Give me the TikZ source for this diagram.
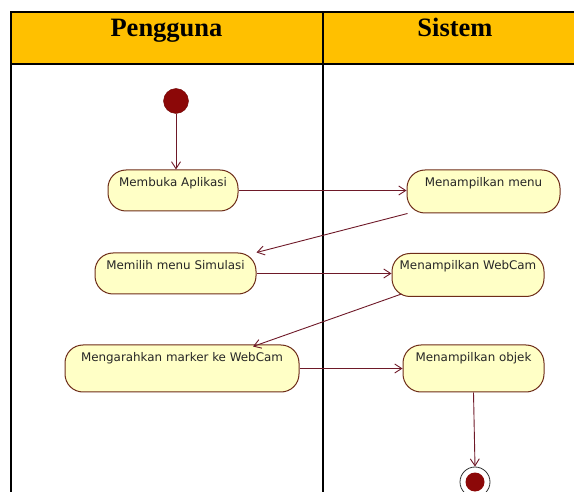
\documentclass[tikz,border=0pt]{standalone}
\usepackage{fontspec}
\setmainfont{Liberation Serif}
\newfontfamily\uifont{DejaVu Sans}
\usetikzlibrary{arrows.meta}

\definecolor{hdrfill}{RGB}{255,192,0}
\definecolor{actfill}{RGB}{255,255,198}
\definecolor{actline}{RGB}{110,45,25}
\definecolor{flowline}{RGB}{110,25,40}
\definecolor{dotfill}{RGB}{140,8,8}

\tikzset{
  act/.style={draw=actline, line width=1pt, fill=actfill,
    rounded corners=18pt, inner sep=0pt},
  acttext/.style={anchor=base, inner sep=0pt, font=\uifont\fontsize{11.9}{14}\selectfont,
    text=black!85},
  flow/.style={draw=flowline, line width=0.9pt,
    -{Straight Barb[length=7pt,width=9pt,line width=0.9pt]}},
  grid/.style={draw=black, line width=2.2pt},
  hdr/.style={anchor=base, font=\fontsize{26.5}{29}\selectfont\bfseries}
}

\begin{document}
\begin{tikzpicture}[x=1pt,y=-1pt]
  \useasboundingbox (0,0) rectangle (574,492);
  \clip (0,0) rectangle (574,492);

  % swimlane table
  \fill[hdrfill] (11,12.3) rectangle (590,64);
  \draw[grid] (11,520) -- (11,12.3) -- (590,12.3);
  \draw[grid] (11,64) -- (590,64);
  \draw[grid] (322.7,12.3) -- (322.7,520);
  \node[hdr] (hPengguna) at (166.5,37) {Pengguna};
  \node[hdr] (hSistem) at (455,37) {Sistem};

  % initial node
  \node[circle, fill=dotfill, draw=dotfill!80!black, minimum size=25pt, inner sep=0pt] (start) at (176,101) {};

  % activities
  \node[act, minimum width=130pt, minimum height=41pt] (A1) at (173,190.5) {};
  \node[acttext] (A1t) at ([yshift=-17pt]A1.north) {Membuka Aplikasi};

  \node[act, minimum width=153pt, minimum height=43pt] (S1) at (483.5,191.5) {};
  \node[acttext] (S1t) at ([yshift=-17pt]S1.north) {Menampilkan menu};

  \node[act, minimum width=161pt, minimum height=41pt] (A2) at (175.5,273.5) {};
  \node[acttext] (A2t) at ([yshift=-17pt]A2.north) {Memilih menu Simulasi};

  \node[act, minimum width=152pt, minimum height=43pt] (S2) at (468,275) {};
  \node[acttext] (S2t) at ([yshift=-17pt]S2.north) {Menampilkan WebCam};

  \node[act, minimum width=234pt, minimum height=47pt] (A3) at (182,368.5) {};
  \node[acttext] (A3t) at ([yshift=-17pt]A3.north) {Mengarahkan marker ke WebCam};

  \node[act, minimum width=141pt, minimum height=47pt] (S3) at (473.5,368.5) {};
  \node[acttext] (S3t) at ([yshift=-17pt]S3.north) {Menampilkan objek};

  % final node
  \node[circle, draw=black!80, line width=0.8pt, fill=white, minimum size=30pt, inner sep=0pt] (stop) at (475,482) {};
  \node[circle, fill=dotfill, minimum size=19pt, inner sep=0pt] (stopdot) at (stop.center) {};

  % control flow
  \coordinate (s1out) at ([xshift=1pt]S1.south west);
  \coordinate (a2in)  at (A2.north east);
  \coordinate (s2out) at ([xshift=10pt,yshift=3pt]S2.south west);
  \coordinate (a3in)  at ([xshift=71pt,yshift=-2pt]A3.north);

  \draw[flow] (start) -- (start |- A1.north);
  \draw[flow] (A1.east) -- (S1.west |- A1.east);
  \draw[flow] (s1out) -- (a2in);
  \draw[flow] (A2.east) -- (S2.west |- A2.east);
  \draw[flow] (s2out) -- (a3in);
  \draw[flow] (A3.east) -- (S3.west |- A3.east);
  \draw[flow] (S3.south) -- (stop.north);
\end{tikzpicture}
\end{document}
